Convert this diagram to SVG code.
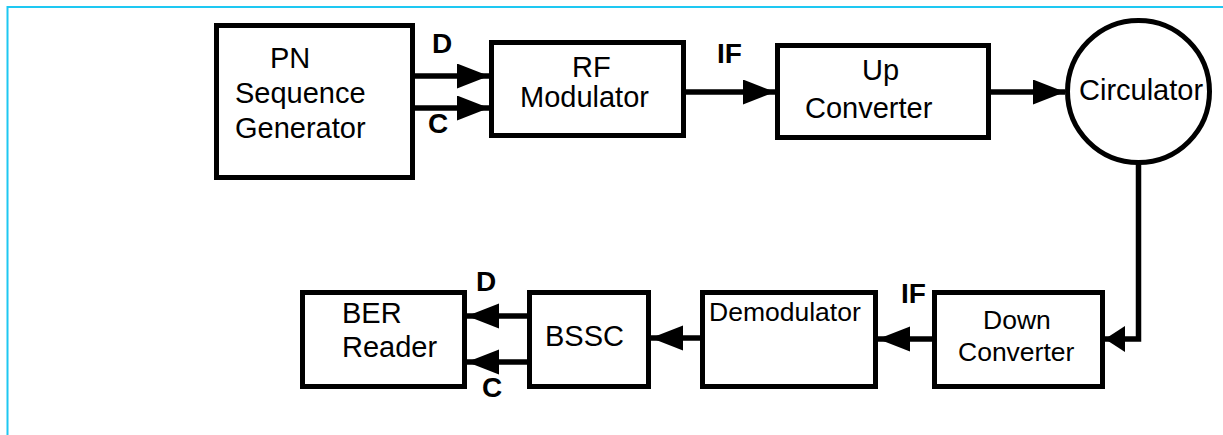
<svg xmlns="http://www.w3.org/2000/svg" width="1223" height="435" viewBox="0 0 1223 435">
<style>
.box{fill:#fff;stroke:#000;stroke-width:5}
.t{font-family:"Liberation Sans",Arial,sans-serif;font-size:29px;fill:#000}
.s{font-family:"Liberation Sans",Arial,sans-serif;font-size:26.5px;fill:#000}
.b{font-family:"Liberation Sans",Arial,sans-serif;font-size:28px;font-weight:bold;fill:#000}
.c{fill:none;stroke:#000;stroke-width:5.5}
</style>
<defs>
<marker id="ah" markerUnits="userSpaceOnUse" markerWidth="33" markerHeight="26" refX="32" refY="12.5" orient="auto" viewBox="0 0 33 26">
<path d="M0,0 L32,12.5 L0,25 Z" fill="#000"/>
</marker>
<marker id="ahs" markerUnits="userSpaceOnUse" markerWidth="21" markerHeight="27" refX="20" refY="13" orient="auto" viewBox="0 0 21 27">
<path d="M0,0 L20,13 L0,26 Z" fill="#000"/>
</marker>
</defs>
<rect x="0" y="0" width="1223" height="435" fill="#fff"/>
<rect x="7.5" y="7" width="1400" height="600" fill="none" stroke="#1ec8f2" stroke-width="2"/>

<g id="connectors">
<line class="c" x1="415" y1="76" x2="489" y2="76" marker-end="url(#ah)"/>
<line class="c" x1="415" y1="108" x2="489" y2="108" marker-end="url(#ah)"/>
<line class="c" x1="686" y1="92" x2="775" y2="92" marker-end="url(#ah)"/>
<line class="c" x1="991" y1="92" x2="1065" y2="92" marker-end="url(#ah)"/>
<path class="c" d="M1138.5,163 V339 H1105" marker-end="url(#ahs)"/>
<line class="c" x1="932" y1="339" x2="878" y2="339" marker-end="url(#ah)"/>
<line class="c" x1="700" y1="338" x2="651" y2="338" marker-end="url(#ah)"/>
<line class="c" x1="527" y1="316" x2="467" y2="316" marker-end="url(#ah)"/>
<line class="c" x1="527" y1="362" x2="467" y2="362" marker-end="url(#ah)"/>
<text class="b" x="432" y="53">D</text>
<text class="b" x="428" y="133">C</text>
<text class="b" x="717" y="63">IF</text>
<text class="b" x="901" y="303">IF</text>
<text class="b" x="476" y="291">D</text>
<text class="b" x="482" y="397">C</text>
</g>

<g id="pn">
<rect class="box" x="216.5" y="25.5" width="196" height="152"/>
<text class="t" x="270" y="68">PN</text>
<text class="t" x="235" y="103">Sequence</text>
<text class="t" x="235" y="138">Generator</text>
</g>
<g id="rf">
<rect class="box" x="491.5" y="42.5" width="192" height="93"/>
<text class="t" x="572" y="77">RF</text>
<text class="t" x="520" y="107">Modulator</text>
</g>
<g id="up">
<rect class="box" x="777.5" y="45.5" width="211" height="92"/>
<text class="t" x="862" y="80">Up</text>
<text class="t" x="805" y="118">Converter</text>
</g>
<g id="circulator">
<circle cx="1138.5" cy="91.5" r="71" fill="#fff" stroke="#000" stroke-width="5"/>
<text class="t" x="1079" y="100">Circulator</text>
</g>
<g id="down">
<rect class="box" x="934.5" y="292.5" width="168" height="94"/>
<text class="s" x="983" y="329">Down</text>
<text class="s" x="958" y="361">Converter</text>
</g>
<g id="demod">
<rect class="box" x="702.5" y="292.5" width="173" height="94"/>
<text class="s" x="709" y="321">Demodulator</text>
</g>
<g id="bssc">
<rect class="box" x="529.5" y="292.5" width="119" height="94"/>
<text class="t" x="545" y="346">BSSC</text>
</g>
<g id="ber">
<rect class="box" x="302.5" y="292.5" width="162" height="94"/>
<text class="t" x="342" y="323">BER</text>
<text class="t" x="342" y="357">Reader</text>
</g>
</svg>
